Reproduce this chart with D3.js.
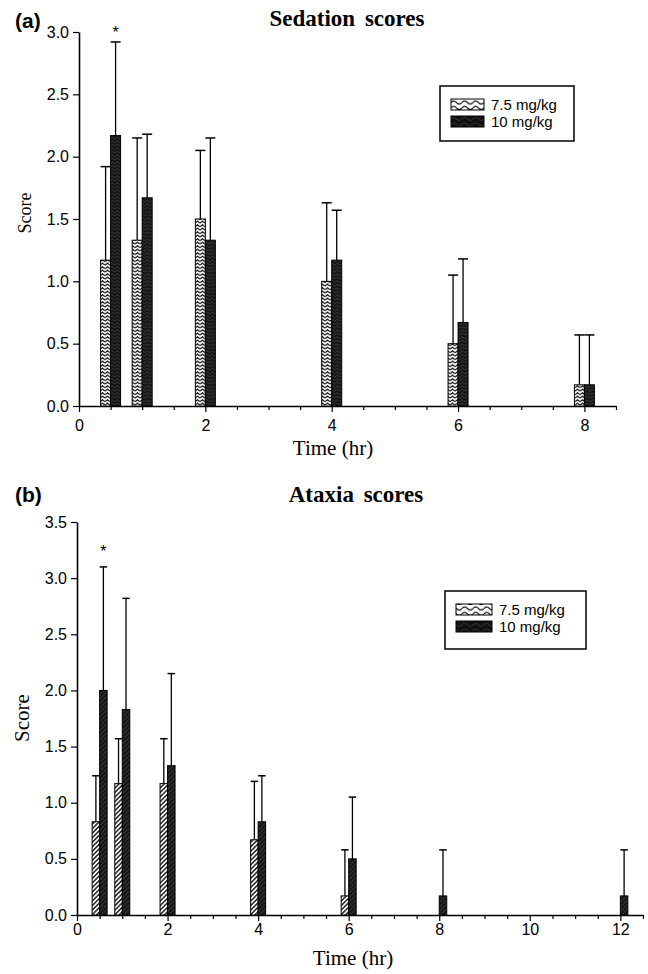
<!DOCTYPE html>
<html>
<head>
<meta charset="utf-8">
<script src="https://cdn.jsdelivr.net/npm/d3@7"></script>
<style>
body { margin: 0; background: #fff; }
</style>
</head>
<body>
<div id="chart"></div>
<script>
// datos (media y desviación de cada grupo)
let sedTimes = [0.5, 1, 2, 4, 6, 8];
let sedLow = [1.17, 1.33, 1.5, 1.0, 0.5, 0.17];
let sedLowSd = [0.75, 0.82, 0.55, 0.63, 0.55, 0.40];
let sedHigh = [2.17, 1.67, 1.33, 1.17, 0.67, 0.17];
let sedHighSd = [0.75, 0.51, 0.82, 0.40, 0.51, 0.40];

let atxTimes = [0.5, 1, 2, 4, 6, 8, 12];
let atxLow = [0.83, 1.17, 1.17, 0.67, 0.17, 0, 0];
let atxLowSd = [0.41, 0.40, 0.40, 0.52, 0.41, 0, 0];
let atxHigh = [2.0, 1.83, 1.33, 0.83, 0.5, 0.17, 0.17];
let atxHighSd = [1.10, 0.99, 0.82, 0.41, 0.55, 0.41, 0.41];

let seriesNames = ["7.5 mg/kg", "10 mg/kg"];

let sedXLabels = [0, 2, 4, 6, 8];
let atxXLabels = [0, 2, 4, 6, 8, 10, 12];
let sedYTicks = [0, 0.5, 1.0, 1.5, 2.0, 2.5, 3.0];
let atxYTicks = [0, 0.5, 1.0, 1.5, 2.0, 2.5, 3.0, 3.5];

let sansFont = "'Liberation Sans', Arial, sans-serif";
let serifFont = "'Liberation Serif', 'Times New Roman', serif";

let svg = d3.select("#chart").append("svg")
    .attr("width", 648)
    .attr("height", 974);

let defs = svg.append("defs");

// tramas de relleno
function makePattern(id, w, h, bg, stroke, d, sw, rotate) {
    let p = defs.append("pattern")
        .attr("id", id)
        .attr("patternUnits", "userSpaceOnUse")
        .attr("width", w)
        .attr("height", h);
    if (rotate) p.attr("patternTransform", "rotate(" + rotate + ")");
    p.append("rect").attr("width", w).attr("height", h).attr("fill", bg);
    p.append("path").attr("d", d).attr("fill", "none")
        .attr("stroke", stroke).attr("stroke-width", sw);
}
makePattern("zigLight", 5, 3.5, "#fff", "#000", "M0,2.7 L2.5,0.8 L5,2.7", 1.1);
makePattern("zigDark", 5, 3.5, "#141414", "#3c3c3c", "M0,2.7 L2.5,0.8 L5,2.7", 0.9);
makePattern("diagLight", 3.2, 3.2, "#fff", "#000", "M1.6,0 V3.2", 1.3, 45);
makePattern("diagDark", 3.2, 3.2, "#141414", "#3c3c3c", "M1.6,0 V3.2", 1, 45);
makePattern("waveLight", 11, 5.5, "#fff", "#000", "M0,3.5 Q2.75,0.5 5.5,3.5 T11,3.5", 1.2);
makePattern("waveDark", 11, 5.5, "#111", "#333", "M0,3.5 Q2.75,0.5 5.5,3.5 T11,3.5", 1);

function drawPanel(cfg) {
    let x = d3.scaleLinear().domain([0, cfg.xMax]).range([cfg.left, cfg.right]);
    let y = d3.scaleLinear().domain([0, cfg.yMax]).range([cfg.bottom, cfg.top]);
    let g = svg.append("g");

    let xTicks = d3.range(0, cfg.xMax + 0.01, 0.5);

    // eje x
    let ax = g.append("g")
        .attr("transform", "translate(0," + cfg.bottom + ")")
        .call(d3.axisBottom(x)
            .tickValues(xTicks)
            .tickSize(6)
            .tickSizeOuter(0)
            .tickPadding(cfg.xPad)
            .tickFormat(d => cfg.xLabels.includes(d) ? d : ""));
    ax.selectAll(".tick line").attr("y2", d => cfg.xLabels.includes(d) ? 6 : 4)
        .attr("stroke-width", 1.2);
    ax.select(".domain").attr("stroke-width", 1.6);
    ax.selectAll("text").style("font", "16px " + sansFont).attr("fill", "#000");

    // eje y
    let ay = g.append("g")
        .attr("transform", "translate(" + cfg.left + ",0)")
        .call(d3.axisLeft(y)
            .tickValues(cfg.yTicks)
            .tickSize(6)
            .tickSizeOuter(0)
            .tickPadding(4)
            .tickFormat(d3.format(".1f")));
    ay.selectAll(".tick line").attr("stroke-width", 1.2);
    ay.select(".domain").attr("stroke-width", 1.6);
    ay.selectAll("text").style("font", "16px " + sansFont).attr("fill", "#000");

    // barras: cada par centrado en su tiempo
    let series = [
        {mean: cfg.low, sd: cfg.lowSd, fill: cfg.lightFill, offset: -1},
        {mean: cfg.high, sd: cfg.highSd, fill: cfg.darkFill, offset: 0}
    ];
    series.forEach(function(s) {
        let rows = cfg.times.map((t, i) => ({t: t, m: s.mean[i], sd: s.sd[i]}))
            .filter(d => d.m > 0);
        let bx = d => x(d.t) + s.offset * cfg.bw;

        g.append("g").selectAll("line.err")
            .data(rows).enter().append("line")
            .attr("x1", d => bx(d) + cfg.bw / 2)
            .attr("x2", d => bx(d) + cfg.bw / 2)
            .attr("y1", d => y(d.m))
            .attr("y2", d => y(d.m + d.sd))
            .attr("stroke", "#000")
            .attr("stroke-width", 1.3);
        g.append("g").selectAll("line.cap")
            .data(rows).enter().append("line")
            .attr("x1", d => bx(d))
            .attr("x2", d => bx(d) + cfg.bw)
            .attr("y1", d => y(d.m + d.sd))
            .attr("y2", d => y(d.m + d.sd))
            .attr("stroke", "#000")
            .attr("stroke-width", 1.5);
        g.append("g").selectAll("rect")
            .data(rows).enter().append("rect")
            .attr("x", d => bx(d))
            .attr("y", d => y(d.m))
            .attr("width", cfg.bw)
            .attr("height", d => y(0) - y(d.m))
            .attr("fill", "url(#" + s.fill + ")")
            .attr("stroke", "#000")
            .attr("stroke-width", 1);
    });

    // asterisco sobre la primera barra de 10 mg/kg
    g.append("text")
        .attr("x", x(cfg.times[0]) + cfg.bw / 2)
        .attr("y", y(cfg.high[0] + cfg.highSd[0]) - cfg.starGap)
        .attr("text-anchor", "middle")
        .style("font", "16px " + sansFont)
        .text("*");

    // títulos y etiquetas
    g.append("text")
        .attr("x", 15).attr("y", cfg.tagY)
        .style("font", "bold 21px " + sansFont)
        .text(cfg.tag);
    g.append("text")
        .attr("x", cfg.titleX).attr("y", cfg.titleY)
        .attr("text-anchor", "middle")
        .style("font", "bold 23px " + serifFont)
        .style("word-spacing", "4px")
        .text(cfg.title);
    g.append("text")
        .attr("transform", "translate(" + cfg.scoreX + "," + cfg.scoreY + ") rotate(-90)")
        .attr("text-anchor", "middle")
        .attr("dy", "0.35em")
        .style("font", cfg.scoreSize + "px " + serifFont)
        .text("Score");
    g.append("text")
        .attr("x", cfg.timeX).attr("y", cfg.timeY)
        .attr("text-anchor", "middle")
        .style("font", "21px " + serifFont)
        .text("Time (hr)");

    // leyenda
    let lg = g.append("g");
    lg.append("rect")
        .attr("x", cfg.legX).attr("y", cfg.legY)
        .attr("width", cfg.legW).attr("height", cfg.legH)
        .attr("fill", "#fff").attr("stroke", "#000").attr("stroke-width", 1.5);
    ["waveLight", "waveDark"].forEach(function(f, i) {
        lg.append("rect")
            .attr("x", cfg.legX + 11).attr("y", cfg.legY + 13 + i * 17)
            .attr("width", cfg.swW).attr("height", 11)
            .attr("fill", "url(#" + f + ")")
            .attr("stroke", "#000").attr("stroke-width", 1);
        lg.append("text")
            .attr("x", cfg.legX + 18 + cfg.swW).attr("y", cfg.legY + 24 + i * 17)
            .style("font", "15px " + sansFont)
            .text(seriesNames[i]);
    });
}

drawPanel({
    times: sedTimes, low: sedLow, lowSd: sedLowSd, high: sedHigh, highSd: sedHighSd,
    xLabels: sedXLabels, yTicks: sedYTicks, xMax: 8.5, yMax: 3,
    left: 79, right: 616, top: 32, bottom: 406, bw: 10, xPad: 8,
    lightFill: "zigLight", darkFill: "zigDark", starGap: 4,
    tag: "(a)", tagY: 28, title: "Sedation scores", titleX: 347, titleY: 26,
    scoreX: 25, scoreY: 213, scoreSize: 18, timeX: 333, timeY: 455,
    legX: 440, legY: 86, legW: 134, legH: 55, swW: 33
});

drawPanel({
    times: atxTimes, low: atxLow, lowSd: atxLowSd, high: atxHigh, highSd: atxHighSd,
    xLabels: atxXLabels, yTicks: atxYTicks, xMax: 12.5, yMax: 3.5,
    left: 77, right: 643, top: 522, bottom: 915, bw: 7.5, xPad: 3,
    lightFill: "diagLight", darkFill: "diagDark", starGap: 10,
    tag: "(b)", tagY: 502, title: "Ataxia scores", titleX: 356, titleY: 502,
    scoreX: 22, scoreY: 718, scoreSize: 21, timeX: 353, timeY: 965,
    legX: 445, legY: 591, legW: 141, legH: 58, swW: 36
});
</script>
</body>
</html>
